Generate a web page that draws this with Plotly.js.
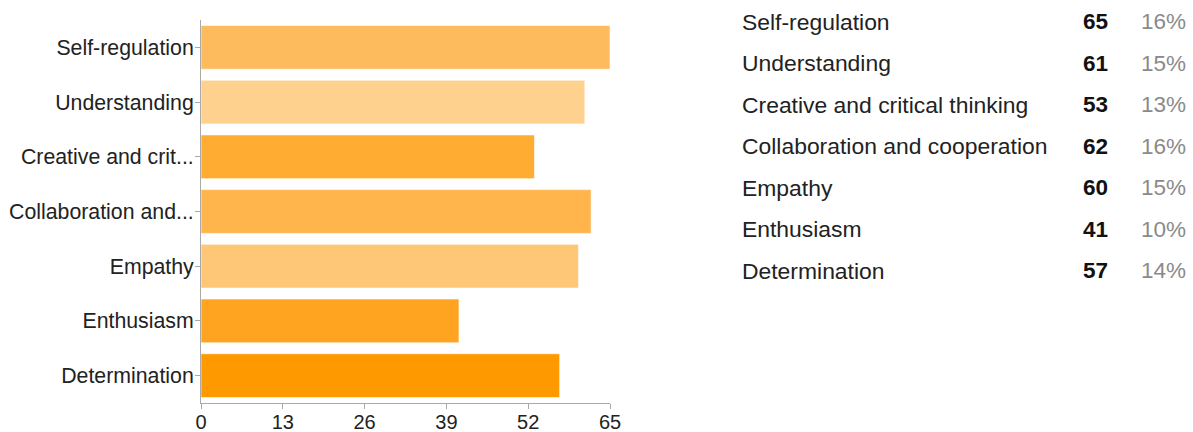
<!DOCTYPE html>
<html>
<head>
<meta charset="utf-8">
<script src="https://cdn.plot.ly/plotly-3.0.1.min.js"></script>
<style>html,body{margin:0;padding:0;background:#fff;}#chart{width:1193px;height:432px;}</style>
</head>
<body>
<div id="chart"></div>
<script>
const categories = ["Self-regulation", "Understanding", "Creative and critical thinking", "Collaboration and cooperation", "Empathy", "Enthusiasm", "Determination"];
const tickLabels = ["Self-regulation", "Understanding", "Creative and crit...", "Collaboration and...", "Empathy", "Enthusiasm", "Determination"];
const counts = [65, 61, 53, 62, 60, 41, 57];
const percents = ["16%", "15%", "13%", "16%", "15%", "10%", "14%"];
const barColors = ["#FDBB5E", "#FED18E", "#FFAC33", "#FFB44C", "#FEC677", "#FFA421", "#FF9900"];
const xTicks = [0, 13, 26, 39, 52, 65];

const W = 1193, H = 432;
const L = 201, R = 583, T = 20, B = 29;
const pw = W - L - R, ph = H - T - B;
const px = x => (x - L) / pw;
const py = y => 1 - (y - T) / ph;

const font = "Arial, 'Liberation Sans', sans-serif";

const trace = {
  type: "bar",
  orientation: "h",
  y: categories,
  x: counts,
  width: 0.8,
  marker: {color: barColors, line: {color: "rgba(255,255,255,0.6)", width: 1}},
  hoverinfo: "none"
};

const annotations = [];
const rowTop = 21.7, rowStep = 41.5;
categories.forEach((c, i) => {
  const y = py(rowTop + i * rowStep);
  annotations.push({xref: "paper", yref: "paper", x: px(740), y: y, xanchor: "left", yanchor: "middle",
    text: c, showarrow: false, font: {family: font, size: 22.9, color: "#222"}});
  annotations.push({xref: "paper", yref: "paper", x: px(1110), y: y, xanchor: "right", yanchor: "middle",
    text: "<b>" + counts[i] + "</b>", showarrow: false, font: {family: font, size: 22.5, color: "#111"}});
  annotations.push({xref: "paper", yref: "paper", x: px(1188), y: y, xanchor: "right", yanchor: "middle",
    text: percents[i], showarrow: false, font: {family: font, size: 22.5, color: "#8a8a8a"}});
});

const layout = {
  width: W, height: H,
  margin: {l: L, r: R, t: T, b: B, pad: 0},
  paper_bgcolor: "#fff", plot_bgcolor: "#fff",
  showlegend: false,
  bargap: 0.2,
  xaxis: {
    range: [0, 65], tickvals: xTicks, ticktext: xTicks.map(String),
    showgrid: false, zeroline: false, showline: true, linecolor: "#aaa", linewidth: 1,
    ticks: "outside", ticklen: 5, tickcolor: "#aaa", ticklabelstandoff: -4,
    tickfont: {family: font, size: 20, color: "#222"}, fixedrange: true
  },
  yaxis: {
    autorange: false, range: [6.5, -0.5], type: "category",
    tickvals: categories, ticktext: tickLabels,
    showgrid: false, zeroline: false, showline: true, linecolor: "#aaa", linewidth: 1,
    ticks: "outside", ticklen: 5, tickcolor: "#aaa", ticklabelstandoff: -3,
    tickfont: {family: font, size: 21.3, color: "#222"}, fixedrange: true
  },
  annotations: annotations
};

Plotly.newPlot("chart", [trace], layout, {displayModeBar: false, staticPlot: true});
</script>
</body>
</html>
